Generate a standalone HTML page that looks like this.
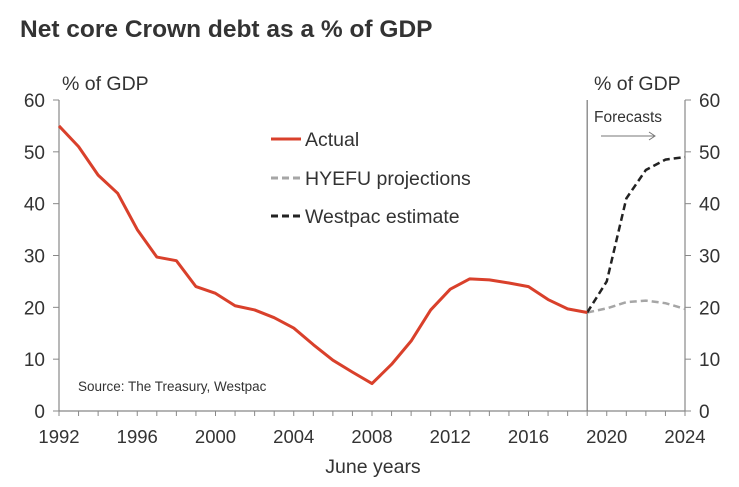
<!DOCTYPE html>
<html><head><meta charset="utf-8"><style>
body{margin:0;background:#fff;}
svg text{font-family:"Liberation Sans",sans-serif;fill:#333;}
</style></head><body>
<svg width="739" height="482" viewBox="0 0 739 482">
<text x="20" y="37" font-size="24.5" font-weight="bold" style="fill:#333">Net core Crown debt as a % of GDP</text>
<g id="axes"></g>
<g id="series"></g>
</svg>
<script>
const years=[1992,1993,1994,1995,1996,1997,1998,1999,2000,2001,2002,2003,2004,2005,2006,2007,2008,2009,2010,2011,2012,2013,2014,2015,2016,2017,2018,2019];
const actual=[55,51,45.5,42,35,29.7,29,24,22.7,20.3,19.5,18,16,12.8,9.8,7.5,5.3,9,13.5,19.5,23.5,25.5,25.3,24.7,24,21.5,19.7,19];
const fYears=[2019,2020,2021,2022,2023,2024];
const hyefu=[19,19.8,21,21.3,20.8,19.7];
const westpac=[19,25,41,46.5,48.5,49];
const xTicks=[1992,1996,2000,2004,2008,2012,2016,2020,2024];
const yTicks=[0,10,20,30,40,50,60];
const NS='http://www.w3.org/2000/svg';
const X=y=>59+(y-1992)*(685-59)/32;
const Y=v=>411-v*(411-100)/60;
function mk(tag,attrs,parent,txt){const e=document.createElementNS(NS,tag);for(const k in attrs)e.setAttribute(k,attrs[k]);if(txt!==undefined)e.textContent=txt;parent.appendChild(e);return e;}
const ax=document.getElementById('axes'),se=document.getElementById('series');
let e;
e=mk('line',{x1:59,y1:100,x2:59,y2:411,stroke:'#888','stroke-width':1.2},ax);

e=mk('line',{x1:685,y1:100,x2:685,y2:411,stroke:'#888','stroke-width':1.2},ax);

e=mk('line',{x1:59,y1:411,x2:685,y2:411,stroke:'#888','stroke-width':1.2},ax);

e=mk('line',{x1:X(2019),y1:100,x2:X(2019),y2:411,stroke:'#777','stroke-width':1.2},ax);

for(let y=1992;y<=2024;y++){e=mk('line',{x1:X(y),y1:411,x2:X(y),y2:416,stroke:'#888'},ax);
}
yTicks.forEach(v=>{
e=mk('line',{x1:53,y1:Y(v),x2:59,y2:Y(v),stroke:'#888'},ax);

e=mk('line',{x1:685,y1:Y(v),x2:691,y2:Y(v),stroke:'#888'},ax);

e=mk('text',{x:45,y:Y(v)+7,'font-size':19,'text-anchor':'end'},ax,v);

e=mk('text',{x:699,y:Y(v)+7,'font-size':19},ax,v);

});
xTicks.forEach(t=>{e=mk('text',{x:X(t),y:443,'font-size':18.5,'text-anchor':'middle'},ax,t);
});
e=mk('text',{x:373,y:473,'font-size':19.5,'text-anchor':'middle'},ax,'June years');

e=mk('text',{x:62,y:90,'font-size':19.5},ax,'% of GDP');

e=mk('text',{x:594,y:90,'font-size':19.5},ax,'% of GDP');

e=mk('text',{x:594,y:122,'font-size':15.5},ax,'Forecasts');

e=mk('path',{d:'M601 136H655M649 132L655 136L649 140',stroke:'#777',fill:'none'},ax);

e=mk('text',{x:78,y:391,'font-size':13.5},ax,'Source: The Treasury,  Westpac');

const pts=(xs,vs)=>xs.map((x,i)=>X(x)+','+Y(vs[i])).join(' ');
e=mk('polyline',{points:pts(fYears,hyefu),fill:'none',stroke:'#a6a6a6','stroke-width':2.5,'stroke-dasharray':'7,4'},se);

e=mk('polyline',{points:pts(fYears,westpac),fill:'none',stroke:'#222','stroke-width':2.5,'stroke-dasharray':'7,4'},se);

e=mk('polyline',{points:pts(years,actual),fill:'none',stroke:'#d9402b','stroke-width':3,'stroke-linejoin':'round'},se);

const leg=[['Actual','#d9402b',null,139],['HYEFU projections','#a6a6a6','7,4',178],['Westpac estimate','#222','7,4',216]];
leg.forEach(l=>{const a={x1:271,y1:l[3],x2:301,y2:l[3],stroke:l[1],'stroke-width':3};if(l[2])a['stroke-dasharray']=l[2];
e=mk('line',a,se);
e=mk('text',{x:305,y:l[3]+7,'font-size':19.5},se,l[0]);});
</script>
</body></html>
